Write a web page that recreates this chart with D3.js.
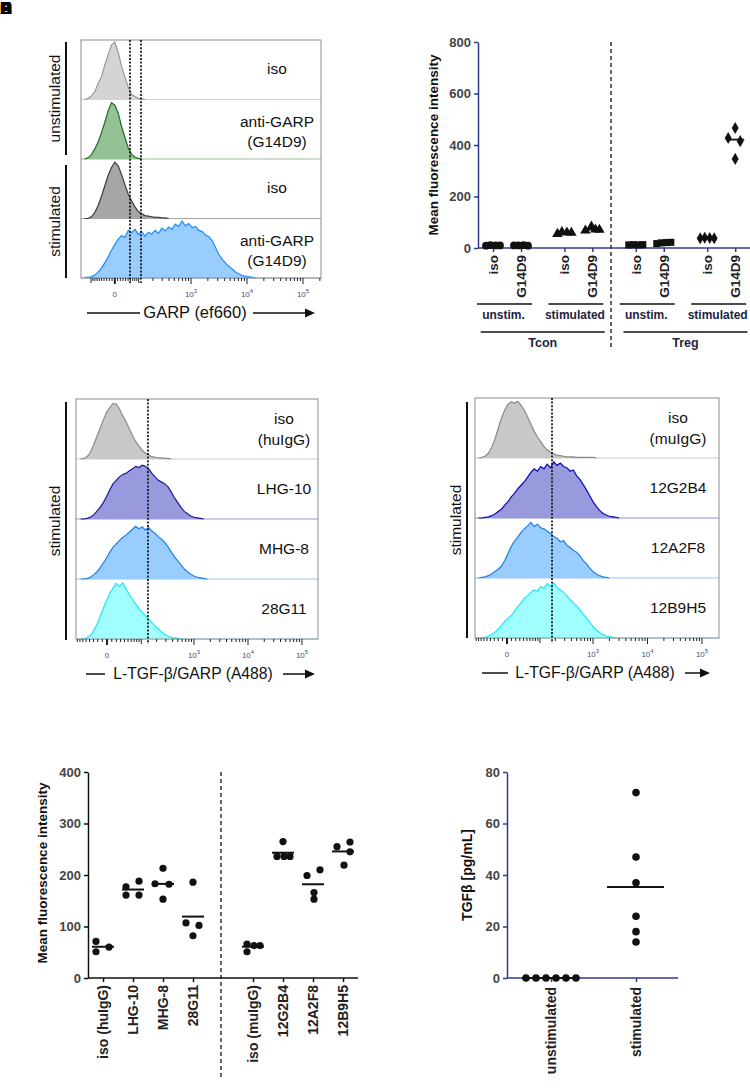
<!DOCTYPE html>
<html>
<head>
<meta charset="utf-8">
<script src="https://cdn.jsdelivr.net/npm/d3@7"></script>
<style>
  body { margin: 0; background: #fff; }
  svg { display: block; }
  text { font-family: "Liberation Sans", Arial, sans-serif; }
</style>
</head>
<body>
<svg id="fig" width="750" height="1088"></svg>
<script>
// ---------- data ----------
// flow histograms: % of mode, bins of 0.06 display units (decades)
var garpIsoUnstim = [0, 2, 6, 13, 27, 39, 59, 77, 94, 99, 81, 57, 39, 21, 9, 5, 2, 1, 0];
var garpG14Unstim = [0, 2, 7, 17, 29, 45, 63, 83, 97, 93, 79, 56, 37, 19, 8, 3, 1, 0];
var garpIsoStim = [0, 0, 3, 10, 22, 38, 56, 74, 88, 97, 91, 76, 58, 42, 30, 20, 12, 8, 5, 4, 3, 2, 2, 1, 1, 0];
var garpG14Stim = [1, 1, 2, 5, 10, 17, 26, 36, 48, 58, 67, 73, 70, 82, 78, 84, 75, 80, 72, 79, 76, 82, 77, 86, 81, 88,
  84, 93, 89, 98, 90, 94, 87, 89, 82, 80, 74, 71, 64, 52, 40, 32, 25, 20, 15, 10, 7, 4, 3, 2, 1, 0];

var huIso = [0, 1, 4, 11, 24, 38, 52, 66, 80, 88, 95, 94, 86, 74, 64, 52, 40, 30, 22, 15, 10, 7, 4, 3, 2, 2, 1, 1, 0];
var huLHG10 = [0, 0, 1, 3, 7, 13, 20, 28, 38, 50, 60, 66, 72, 76, 78, 82, 86, 90, 88, 92, 90, 86, 78, 72, 66, 63,
  60, 55, 46, 36, 28, 20, 13, 9, 5, 3, 2, 1, 0];
var huMHG8 = [0, 0, 1, 3, 7, 12, 19, 27, 36, 46, 54, 60, 66, 71, 75, 80, 85, 90, 86, 89, 84, 88, 82, 78, 72, 68,
  62, 55, 46, 38, 31, 24, 17, 12, 8, 5, 3, 2, 1, 0];
var hu28G11 = [0, 0, 2, 6, 14, 24, 38, 52, 66, 78, 87, 95, 90, 96, 86, 76, 68, 60, 52, 46, 40, 34, 28, 22, 17, 12,
  8, 5, 3, 2, 1, 0];

var muIso = [0, 1, 3, 8, 18, 32, 50, 68, 82, 92, 96, 94, 97, 90, 82, 70, 58, 46, 36, 28, 20, 14, 10, 7, 5, 4, 3, 2,
  2, 2, 1, 1, 1, 1, 1, 1, 0];
var mu12G2B4 = [0, 0, 1, 2, 4, 7, 11, 15, 22, 28, 36, 42, 50, 56, 62, 70, 78, 84, 80, 88, 84, 92, 86, 96, 90, 94,
  88, 86, 80, 82, 72, 66, 57, 48, 38, 28, 20, 13, 8, 5, 3, 2, 1, 0];
var mu12A2F8 = [0, 1, 2, 4, 7, 11, 15, 20, 30, 42, 54, 63, 70, 78, 84, 89, 95, 88, 92, 86, 84, 80, 76, 71, 68, 62,
  64, 56, 52, 47, 44, 38, 30, 24, 17, 11, 7, 4, 2, 1, 0];
var mu12B9H5 = [0, 0, 1, 3, 6, 10, 15, 21, 28, 34, 38, 46, 54, 60, 68, 72, 78, 82, 80, 88, 85, 93, 88, 94, 86, 82,
  78, 72, 66, 60, 55, 48, 41, 34, 27, 20, 14, 9, 6, 3, 2, 1, 0];

var flowTickValues = [0, 1e3, 1e4, 1e5];
var flowTickBase = ["0", "10", "10", "10"];
var flowTickExp = ["", "3", "4", "5"];

// MFI of GARP (panel B)
var mfiCategories = ["iso", "G14D9", "iso", "G14D9", "iso", "G14D9", "iso", "G14D9"];
var mfiGroups = ["unstim.", "stimulated", "unstim.", "stimulated"];
var mfiCells = ["Tcon", "Treg"];
var mfiValues = [
  [9, 11, 10, 10], [10, 10, 11, 9],
  [55, 62, 60, 59], [68, 83, 72, 71],
  [12, 13, 12, 13], [17, 20, 21, 22],
  [38, 40, 39, 38], [427, 466, 415, 346]
];
var mfiTicks = [0, 200, 400, 600, 800];

// MFI of L-TGF-b/GARP per antibody (panel E)
var abCategories = ["iso (huIgG)", "LHG-10", "MHG-8", "28G11", "iso (muIgG)", "12G2B4", "12A2F8", "12B9H5"];
var abValues = [
  [71, 51, 60], [177, 161, 188, 161], [213, 183, 182, 153], [186, 107, 102, 82],
  [66, 51, 63, 63], [265, 236, 236, 236], [199, 210, 166, 153], [255, 264, 245, 219]
];
var abTicks = [0, 100, 200, 300, 400];

// TGF-b ELISA (panel F)
var tgfCategories = ["unstimulated", "stimulated"];
var tgfValues = [[0, 0, 0, 0, 0, 0], [72, 47, 37, 24, 18, 14]];
var tgfTicks = [0, 20, 40, 60, 80];

// ---------- drawing ----------
var svg = d3.select("#fig");
var navy = "#2e3a8c";

// stacked panel letters in the corner
["A", "B", "C", "D", "E", "F"].forEach(function (l) {
  svg.append("text").attr("x", 0).attr("y", 14).style("font-size", "17px")
    .style("font-weight", "bold").text(l);
});

function flowPanel(p) {
  var g = svg.append("g");
  var x = d3.scaleLinear().domain([3, 5]).range([p.px3, p.px5]);
  // logicle-like display transform
  var disp = function (v) { return Math.asinh(v / (2 * p.w)) / Math.LN10 + Math.log10(p.w); };
  var rowH = (p.y1 - p.y0) / p.rows.length;

  g.append("clipPath").attr("id", "clip" + p.id).append("rect")
    .attr("x", p.x0).attr("y", p.y0).attr("width", p.x1 - p.x0).attr("height", p.y1 - p.y0);

  p.rows.forEach(function (r, i) {
    var top = p.y0 + i * rowH, bot = top + rowH;
    var y = d3.scaleLinear().domain([0, 100]).range([bot, top + 1.5]);
    var pts = r.counts.map(function (c, k) { return [p.binStart + k * 0.06, c]; });

    g.append("line").attr("x1", p.x0).attr("x2", p.x1).attr("y1", bot).attr("y2", bot)
      .attr("stroke", r.stroke).attr("stroke-opacity", 0.45);
    g.append("path").datum(pts).attr("clip-path", "url(#clip" + p.id + ")")
      .attr("d", d3.area().x(function (d) { return x(d[0]); }).y0(bot).y1(function (d) { return y(d[1]); }))
      .attr("fill", r.fill);
    g.append("path").datum(pts).attr("clip-path", "url(#clip" + p.id + ")")
      .attr("d", d3.line().x(function (d) { return x(d[0]); }).y(function (d) { return y(d[1]); }))
      .attr("fill", "none").attr("stroke", r.stroke).attr("stroke-width", 1.2);

    var t = g.append("text").attr("y", (top + bot) / 2).attr("text-anchor", "middle")
      .style("font-size", "15.5px").attr("fill", "#111");
    r.label.forEach(function (s, j) {
      t.append("tspan").attr("x", p.labelX)
        .attr("dy", r.label.length == 1 ? "0.3em" : (j == 0 ? p.labelDy[0] : p.labelDy[1])).text(s);
    });
  });

  g.append("rect").attr("x", p.x0).attr("y", p.y0).attr("width", p.x1 - p.x0).attr("height", p.y1 - p.y0)
    .attr("fill", "none").attr("stroke", "#8c8c8c");

  // gates
  p.gates.forEach(function (v) {
    g.append("line").attr("x1", x(disp(v))).attr("x2", x(disp(v))).attr("y1", p.y0).attr("y2", p.y1 + 5)
      .attr("stroke", "#111").attr("stroke-width", 1.7).attr("stroke-dasharray", "2,1.6");
  });

  // ticks
  var tv = [];
  for (var k = -10; k <= 10; k++) tv.push(k * 10);
  [100, 1000, 10000].forEach(function (d) { for (var m = 2; m <= 9; m++) tv.push(m * d); });
  tv.push(1e3, 1e4, 1e5, 2e5);
  tv.forEach(function (v) {
    var px = x(disp(v));
    if (px < p.x0 + 1 || px > p.x1 - 1) return;
    var len = (v === 0 || v === 1e3 || v === 1e4 || v === 1e5) ? 6 : (Math.abs(v) === 100 ? 5 : 3);
    g.append("line").attr("x1", px).attr("x2", px).attr("y1", p.y1).attr("y2", p.y1 + len)
      .attr("stroke", "#222").attr("stroke-width", v === 0 ? 2 : 1);
  });
  flowTickValues.forEach(function (v, i) {
    var tx = g.append("text").attr("x", x(disp(v))).attr("y", p.y1 + 19).attr("text-anchor", "middle")
      .style("font-size", "8px").attr("fill", "#3d4f73");
    tx.append("tspan").text(flowTickBase[i]);
    if (flowTickExp[i]) tx.append("tspan").attr("dy", -4).style("font-size", "6px").text(flowTickExp[i]);
  });

  // axis title with arrow
  var ay = p.y1 + 35;
  g.append("text").attr("x", p.titleX).attr("y", p.y1 + 40).attr("text-anchor", "middle")
    .style("font-size", p.titleSize).attr("fill", "#111").text(p.title);
  g.append("line").attr("x1", p.arrow[0]).attr("x2", p.arrow[1]).attr("y1", ay).attr("y2", ay)
    .attr("stroke", "#111").attr("stroke-width", 1.5);
  g.append("line").attr("x1", p.arrow[2]).attr("x2", p.arrow[3] - 8).attr("y1", ay).attr("y2", ay)
    .attr("stroke", "#111").attr("stroke-width", 1.5);
  g.append("path").attr("d", "M" + p.arrow[3] + "," + ay + "L" + (p.arrow[3] - 10) + "," + (ay - 4.5) +
    "L" + (p.arrow[3] - 10) + "," + (ay + 4.5) + "Z").attr("fill", "#111");

  // condition bars
  p.bars.forEach(function (b) {
    g.append("line").attr("x1", p.barX).attr("x2", p.barX).attr("y1", b.y0).attr("y2", b.y1)
      .attr("stroke", "#111").attr("stroke-width", 2);
    g.append("text").attr("transform", "translate(" + (p.barX - 11) + "," + ((b.y0 + b.y1) / 2) + ") rotate(-90)")
      .attr("text-anchor", "middle").attr("dy", "0.35em").style("font-size", "15.5px").attr("fill", "#111")
      .text(b.label);
  });
}

flowPanel({
  id: "A", x0: 81, x1: 321, y0: 40, y1: 278, px3: 191, px5: 303, w: 43.65, binStart: 1.10,
  labelX: 277, labelDy: ["-0.15em", "1.3em"], gates: [58, 113],
  title: "GARP (ef660)", titleX: 195, titleSize: "16.5px", arrow: [87, 140, 253, 315],
  barX: 66, bars: [{ y0: 42, y1: 155, label: "unstimulated" }, { y0: 165, y1: 278, label: "stimulated" }],
  rows: [
    { counts: garpIsoUnstim, fill: "#d4d4d4", stroke: "#9a9a9a", label: ["iso"] },
    { counts: garpG14Unstim, fill: "#94c294", stroke: "#1f6b1f", label: ["anti-GARP", "(G14D9)"] },
    { counts: garpIsoStim, fill: "#a6a6a6", stroke: "#3c3c3c", label: ["iso"] },
    { counts: garpG14Stim, fill: "#99ccff", stroke: "#1a8cff", label: ["anti-GARP", "(G14D9)"] }
  ]
});

flowPanel({
  id: "C", x0: 76, x1: 318, y0: 399, y1: 639, px3: 194, px5: 302, w: 24.5, binStart: 0.9,
  labelX: 284, labelDy: ["-0.35em", "1.4em"], gates: [136],
  title: "L-TGF-\u03b2/GARP (A488)", titleX: 193, titleSize: "15.7px", arrow: [86, 105, 283, 315],
  barX: 66, bars: [{ y0: 402, y1: 640, label: "stimulated" }],
  rows: [
    { counts: huIso, fill: "#c8c8c8", stroke: "#8a8a8a", label: ["iso", "(huIgG)"] },
    { counts: huLHG10, fill: "#9999dd", stroke: "#1a1a99", label: ["LHG-10"] },
    { counts: huMHG8, fill: "#99ccff", stroke: "#1f7fe6", label: ["MHG-8"] },
    { counts: hu28G11, fill: "#a0ffff", stroke: "#19e6ff", label: ["28G11"] }
  ]
});

flowPanel({
  id: "D", x0: 475, x1: 719, y0: 398, y1: 638, px3: 593, px5: 702, w: 26.4, binStart: 0.9,
  labelX: 678, labelDy: ["-0.35em", "1.4em"], gates: [173],
  title: "L-TGF-\u03b2/GARP (A488)", titleX: 595, titleSize: "15.7px", arrow: [482, 508, 685, 710],
  barX: 467, bars: [{ y0: 402, y1: 638, label: "stimulated" }],
  rows: [
    { counts: muIso, fill: "#c8c8c8", stroke: "#8a8a8a", label: ["iso", "(muIgG)"] },
    { counts: mu12G2B4, fill: "#9999dd", stroke: "#0a0ab4", label: ["12G2B4"] },
    { counts: mu12A2F8, fill: "#99ccff", stroke: "#1f7fe6", label: ["12A2F8"] },
    { counts: mu12B9H5, fill: "#a0ffff", stroke: "#19e6ff", label: ["12B9H5"] }
  ]
});

function styleAxis(sel, col) {
  sel.selectAll(".domain, .tick line").attr("stroke", col).attr("stroke-width", 1.5);
  sel.selectAll(".tick text").style("font-size", "13px").style("font-weight", "bold")
    .attr("fill", "#444").style("font-family", "'Liberation Sans', Arial, sans-serif");
}

function yTitle(x, y, s, size) {
  svg.append("text").attr("transform", "translate(" + x + "," + y + ") rotate(-90)")
    .attr("text-anchor", "middle").attr("dy", "0.35em").style("font-size", size)
    .style("font-weight", "bold").attr("fill", "#111").text(s);
}

// ---------- panel B ----------
(function () {
  var g = svg.append("g");
  var y = d3.scaleLinear().domain([0, 800]).range([248, 42]);
  var x = d3.scaleLinear().domain([0, 8.65]).range([493, 735.2]);
  var slot = mfiCategories.map(function (c, i) { return i + 0.55 * Math.floor(i / 2); });
  var shapes = [d3.symbolCircle, d3.symbolCircle, d3.symbolTriangle, d3.symbolTriangle,
    d3.symbolSquare, d3.symbolSquare, d3.symbolDiamond, d3.symbolDiamond];
  var sizes = [48, 48, 48, 48, 50, 50, 42, 42];
  var jitter = [[-7, -2.5, 2.5, 7], [-7, -2.5, 2.5, 7], [-7, -2.5, 2.5, 7], [-7, -1, 3, 7],
    [-7, -2.5, 2.5, 7], [-7, -2.5, 2.5, 7], [-7, -2.5, 2.5, 7], [-7, 0, 5, 0]];

  g.append("line").attr("x1", 611).attr("x2", 611).attr("y1", 42).attr("y2", 348)
    .attr("stroke", "#111").attr("stroke-width", 1.3).attr("stroke-dasharray", "4,3");

  g.append("g").attr("transform", "translate(478,0)")
    .call(d3.axisLeft(y).tickValues(mfiTicks).tickSize(4).tickSizeOuter(0)).call(styleAxis, navy);
  var xa = g.append("g").attr("transform", "translate(0,248)")
    .call(d3.axisBottom(x).tickValues(slot).tickSize(4).tickSizeOuter(0).tickFormat(""));
  xa.select(".domain").attr("d", "M478,0H750");
  styleAxis(xa, navy);

  g.selectAll(".xl").data(mfiCategories).join("text")
    .attr("transform", function (d, i) { return "translate(" + x(slot[i]) + ",255) rotate(-90)"; })
    .attr("text-anchor", "end").attr("dy", "0.35em").style("font-size", "13.5px")
    .style("font-weight", "bold").attr("fill", "#222").text(function (d) { return d; });

  mfiValues.forEach(function (vals, i) {
    var cx = x(slot[i]);
    g.selectAll(null).data(vals).join("path")
      .attr("d", d3.symbol().type(shapes[i]).size(sizes[i]))
      .attr("transform", function (d, j) { return "translate(" + (cx + jitter[i][j]) + "," + y(d) + ")"; })
      .attr("fill", "#111");
    var md = d3.median(vals);
    g.append("line").attr("x1", cx - 9).attr("x2", cx + 9).attr("y1", y(md)).attr("y2", y(md))
      .attr("stroke", "#111").attr("stroke-width", 1.8);
  });

  mfiGroups.forEach(function (s, k) {
    var c = (x(slot[2 * k]) + x(slot[2 * k + 1])) / 2;
    g.append("line").attr("x1", c - 30).attr("x2", c + 25).attr("y1", 304).attr("y2", 304)
      .attr("stroke", "#111").attr("stroke-width", 1.5);
    g.append("text").attr("x", c - 3.5).attr("y", 319).attr("text-anchor", "middle").style("font-size", "12px")
      .style("font-weight", "bold").attr("fill", "#1e2440").text(s);
  });
  mfiCells.forEach(function (s, k) {
    var c = (x(slot[4 * k]) + x(slot[4 * k + 3])) / 2;
    g.append("line").attr("x1", c - 62).attr("x2", c + 62).attr("y1", 332).attr("y2", 332)
      .attr("stroke", "#111").attr("stroke-width", 1.5);
    g.append("text").attr("x", c).attr("y", 347).attr("text-anchor", "middle").style("font-size", "12.5px")
      .style("font-weight", "bold").attr("fill", "#1e2440").text(s);
  });
  yTitle(433, 145, "Mean fluorescence intensity", "13.5px");
})();

// ---------- panel E ----------
(function () {
  var g = svg.append("g");
  var y = d3.scaleLinear().domain([0, 400]).range([978, 772]);
  var x = d3.scaleLinear().domain([0, 8]).range([103, 343]);
  var slot = abCategories.map(function (c, i) { return i + (i >= 4 ? 1 : 0); });
  var jitter = [[-7, -7, 6], [-7, -7, 6, 6], [0, -8, 6, 0], [0, -7, 6, 0],
    [-6, -6, 1, 7], [0, -6, 1, 7], [-6, 7, 1, 1], [-6, 7, 7, 1]];

  g.append("line").attr("x1", 221).attr("x2", 221).attr("y1", 772).attr("y2", 1080)
    .attr("stroke", "#111").attr("stroke-width", 1.3).attr("stroke-dasharray", "4,3");

  g.append("g").attr("transform", "translate(88,0)")
    .call(d3.axisLeft(y).tickValues(abTicks).tickSize(4).tickSizeOuter(0)).call(styleAxis, "#111");
  var xa = g.append("g").attr("transform", "translate(0,978)")
    .call(d3.axisBottom(x).tickValues(slot).tickSize(4).tickSizeOuter(0).tickFormat(""));
  xa.select(".domain").attr("d", "M88,0H358");
  styleAxis(xa, "#111");

  g.selectAll(".xl").data(abCategories).join("text")
    .attr("transform", function (d, i) { return "translate(" + x(slot[i]) + ",985) rotate(-90)"; })
    .attr("text-anchor", "end").attr("dy", "0.35em").style("font-size", "14px")
    .style("font-weight", "bold").attr("fill", "#222").text(function (d) { return d; });

  abValues.forEach(function (vals, i) {
    var cx = x(slot[i]);
    var mn = d3.mean(vals);
    g.append("line").attr("x1", cx - 11).attr("x2", cx + 11).attr("y1", y(mn)).attr("y2", y(mn))
      .attr("stroke", "#111").attr("stroke-width", 2);
    g.selectAll(null).data(vals).join("circle")
      .attr("cx", function (d, j) { return cx + jitter[i][j]; }).attr("cy", function (d) { return y(d); })
      .attr("r", 3.6).attr("fill", "#111");
  });
  yTitle(42, 873, "Mean fluorescence intensity", "13.5px");
})();

// ---------- panel F ----------
(function () {
  var g = svg.append("g");
  var y = d3.scaleLinear().domain([0, 80]).range([978, 772]);
  var x = d3.scalePoint().domain(tgfCategories).range([551, 636]);
  var jitter = [[-25, -15, -5, 5, 15, 25], [0, 0, 0, 0, 0, 0]];

  g.append("g").attr("transform", "translate(507,0)")
    .call(d3.axisLeft(y).tickValues(tgfTicks).tickSize(4).tickSizeOuter(0)).call(styleAxis, navy);
  var xa = g.append("g").attr("transform", "translate(0,978)")
    .call(d3.axisBottom(x).tickSize(4).tickSizeOuter(0).tickFormat(""));
  xa.select(".domain").attr("d", "M507,0H678");
  styleAxis(xa, navy);

  g.selectAll(".xl").data(tgfCategories).join("text")
    .attr("transform", function (d) { return "translate(" + x(d) + ",987) rotate(-90)"; })
    .attr("text-anchor", "end").attr("dy", "0.35em").style("font-size", "14px")
    .style("font-weight", "bold").attr("fill", "#222").text(function (d) { return d; });

  tgfValues.forEach(function (vals, i) {
    var cx = x(tgfCategories[i]);
    var mn = d3.mean(vals);
    g.append("line").attr("x1", cx - 29).attr("x2", cx + 28).attr("y1", y(mn)).attr("y2", y(mn))
      .attr("stroke", "#111").attr("stroke-width", 2);
    g.selectAll(null).data(vals).join("circle")
      .attr("cx", function (d, j) { return cx + jitter[i][j]; }).attr("cy", function (d) { return y(d); })
      .attr("r", 3.8).attr("fill", "#111");
  });
  yTitle(467, 875, "TGF\u03b2 [pg/mL]", "14px");
})();
</script>
</body>
</html>
